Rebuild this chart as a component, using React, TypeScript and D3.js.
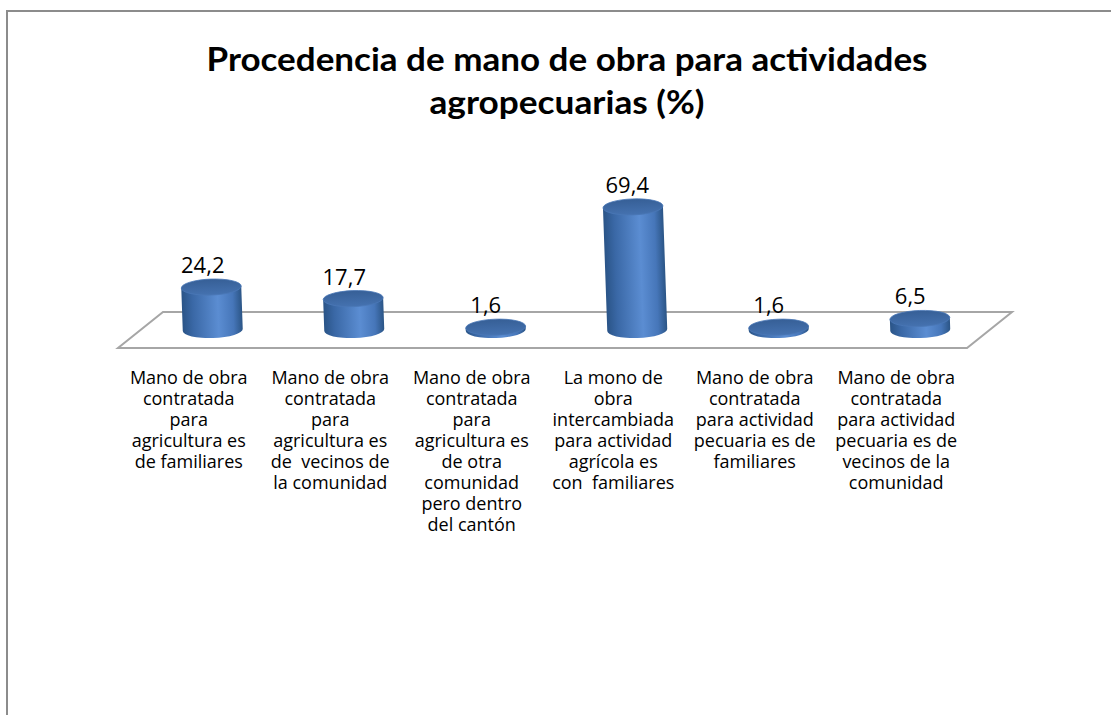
import React from "react";
import { scaleBand, scaleLinear, formatLocale } from "d3";

// data
const categories = [
  ["Mano de obra", "contratada", "para", "agricultura es", "de familiares"],
  ["Mano de obra", "contratada", "para", "agricultura es", "de  vecinos de", "la comunidad"],
  ["Mano de obra", "contratada", "para", "agricultura es", "de otra", "comunidad", "pero dentro", "del cantón"],
  ["La mono de", "obra", "intercambiada", "para actividad", "agrícola es", "con  familiares"],
  ["Mano de obra", "contratada", "para actividad", "pecuaria es de", "familiares"],
  ["Mano de obra", "contratada", "para actividad", "pecuaria es de", "vecinos de la", "comunidad"],
];
const values = [24.2, 17.7, 1.6, 69.4, 1.6, 6.5];
const titleLines = ["Procedencia de mano de obra para actividades", "agropecuarias (%)"];

const W = 1111;
const H = 715;
const FONT = "'Open Sans', Lato, sans-serif";

const fmt = formatLocale({ decimal: ",", thousands: ".", grouping: [3], currency: ["", ""] }).format(".1f");

export default function App() {
  // floor front edge spans the band range, back edge is shifted by depth
  const depthX = 45;
  const depthY = -36;
  const frontY = 348;
  const ids = categories.map((_, i) => String(i));
  const x = scaleBand().domain(ids).range([118, 967]);
  const midY = frontY + depthY / 2;
  const y = scaleLinear().domain([0, 80]).range([midY, midY - 142]);

  const r = 30;
  const ry = 8;

  const floor = [
    [x.range()[0], frontY],
    [x.range()[1], frontY],
    [x.range()[1] + depthX, frontY + depthY],
    [x.range()[0] + depthX, frontY + depthY],
  ];

  return (
    <svg
      width={W}
      height={H}
      style={{ position: "absolute", left: 0, top: 0, background: "#fff" }}
      fontFamily={FONT}
    >
      <defs>
        <linearGradient id="body" x1="0" x2="1" y1="0" y2="0">
          <stop offset="0" stopColor="#2a5487" />
          <stop offset="0.18" stopColor="#3a68a6" />
          <stop offset="0.6" stopColor="#5b8dd2" />
          <stop offset="0.85" stopColor="#4676b9" />
          <stop offset="1" stopColor="#2b5586" />
        </linearGradient>
        <linearGradient id="top" x1="0" x2="0" y1="0" y2="1">
          <stop offset="0" stopColor="#365f96" />
          <stop offset="1" stopColor="#4572b0" />
        </linearGradient>
      </defs>

      <rect x={7} y={11} width={W + 20} height={H + 20} fill="#fff" stroke="#8c8c8c" strokeWidth={2} />

      {titleLines.map((t, i) => (
        <text
          key={t}
          x={567}
          y={71 + i * 43}
          textAnchor="middle"
          fontWeight="bold"
          fontSize={32}
          fill="#000"
          fontFamily="Lato, 'Open Sans', sans-serif"
          textLength={i === 0 ? 721 : 275}
          lengthAdjust="spacingAndGlyphs"
        >
          {t}
        </text>
      ))}

      <polygon
        points={floor.map((p) => p.join(",")).join(" ")}
        fill="none"
        stroke="#a6a6a6"
        strokeWidth={2}
      />

      {values.map((v, i) => {
        const cx = x(String(i))! + x.bandwidth() / 2 + 24;
        const yb = y(0);
        const yt = y(v);
        const body = `M${cx - r},${yt} L${cx - r},${yb} A${r},${ry} 0 0 0 ${cx + r},${yb} L${cx + r},${yt} Z`;
        return (
          <g key={i} transform={`rotate(-2 ${cx} ${yb})`}>
            <path d={body} fill="url(#body)" />
            <ellipse cx={cx} cy={yt} rx={r} ry={ry} fill="url(#top)" stroke="#4a78b6" strokeWidth={0.8} />
          </g>
        );
      })}

      {values.map((v, i) => {
        const cx = x(String(i))! + x.bandwidth() / 2 + 14;
        return (
          <text key={i} x={cx} y={y(v) - ry - 6} textAnchor="middle" fontSize={22} fill="#000">
            {fmt(v)}
          </text>
        );
      })}

      {categories.map((lines, i) => {
        const cx = x(String(i))! + x.bandwidth() / 2;
        return (
          <text key={i} textAnchor="middle" fontSize={18} fill="#000" style={{ whiteSpace: "pre" }}>
            {lines.map((l, j) => (
              <tspan key={j} x={cx} y={384 + j * 21}>
                {l}
              </tspan>
            ))}
          </text>
        );
      })}
    </svg>
  );
}
